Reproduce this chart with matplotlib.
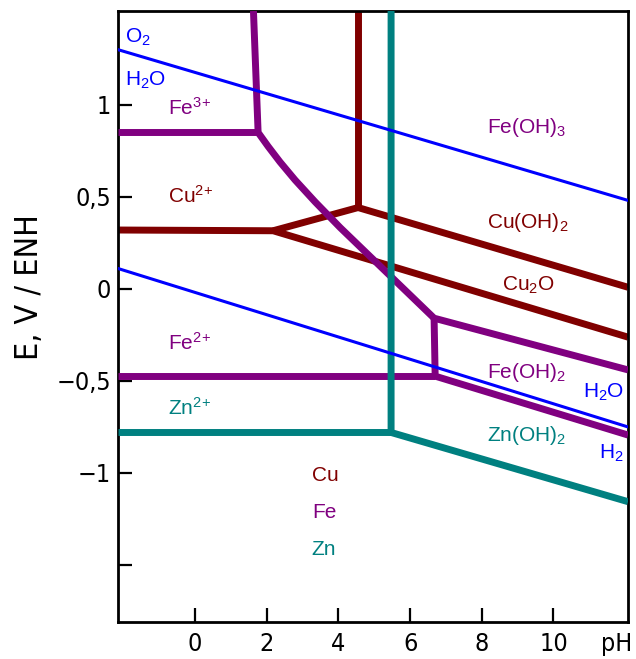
import matplotlib
matplotlib.use("Agg")
import matplotlib.pyplot as plt
import matplotlib.transforms as mtransforms

plt.rcParams['mathtext.fontset'] = 'custom'
plt.rcParams['mathtext.rm'] = 'Liberation Sans'
plt.rcParams['mathtext.it'] = 'Liberation Sans:italic'

# water stability lines (pH, E)
o2_ph = [-2.15, 12.08]
o2_e = [1.30, 0.481]
h2_ph = [-2.15, 12.08]
h2_e = [0.111, -0.75]

# iron boundaries
fe_upper_ph = [1.63, 1.76, 2.04, 2.37, 2.79, 3.35, 4.05, 6.67, 12.08]
fe_upper_e = [1.51, 0.850, 0.774, 0.690, 0.592, 0.473, 0.333, -0.159, -0.44]
fe3_ph = [-2.15, 1.76]
fe3_e = [0.852, 0.852]
fe_lower_ph = [6.67, 6.70, 12.08]
fe_lower_e = [-0.159, -0.474, -0.794]
fe2_ph = [-2.15, 6.70]
fe2_e = [-0.474, -0.474]

# copper boundaries
cu_a_ph = [-2.15, 2.18, 12.08]
cu_a_e = [0.32, 0.316, -0.262]
cu_b_ph = [2.18, 4.55, 12.08]
cu_b_e = [0.316, 0.442, 0.009]
cu_c_ph = [4.55, 4.55]
cu_c_e = [0.442, 1.51]

# zinc boundaries
zn_a_ph = [5.47, 5.47, 12.08]
zn_a_e = [1.51, -0.78, -1.156]
zn_b_ph = [-2.15, 5.47]
zn_b_e = [-0.78, -0.78]

xticks = [0, 2, 4, 6, 8, 10]
yticks = [1, 0.5, 0, -0.5, -1, -1.5]
ytick_labels = ["1", "0,5", "0", "\u22120,5", "\u22121", ""]

PURPLE = "#800080"
DARKRED = "#800000"
TEAL = "#008080"
BLUE = "#0000ff"

fig = plt.figure(figsize=(6.36, 6.59), dpi=100)
ax = fig.add_axes([0.1855, 0.0561, 0.8019, 0.9272])
ax.set_xlim(-2.15, 12.08)
ax.set_ylim(-1.81, 1.51)

lw = 5.0
kw = dict(solid_joinstyle="miter", solid_capstyle="butt")
for px, py in [(cu_a_ph, cu_a_e), (cu_b_ph, cu_b_e), (cu_c_ph, cu_c_e)]:
    ax.plot(px, py, color=DARKRED, lw=lw, zorder=2, **kw)
for px, py in [(fe_upper_ph, fe_upper_e), (fe3_ph, fe3_e), (fe_lower_ph, fe_lower_e), (fe2_ph, fe2_e)]:
    ax.plot(px, py, color=PURPLE, lw=lw, zorder=3, **kw)
for px, py in [(zn_a_ph, zn_a_e), (zn_b_ph, zn_b_e)]:
    ax.plot(px, py, color=TEAL, lw=lw, zorder=4, **kw)
ax.plot(o2_ph, o2_e, color=BLUE, lw=2.2, zorder=5)
ax.plot(h2_ph, h2_e, color=BLUE, lw=2.2, zorder=5)

# region labels
lab = dict(fontsize=15, family="Liberation Sans", va="center", ha="left")
ax.text(-1.95, 1.366, "O$_2$", color=BLUE, **lab)
ax.text(-1.95, 1.133, "H$_2$O", color=BLUE, **lab)
ax.text(-0.75, 0.985, "Fe$^{3\\!+}$", color=PURPLE, **lab)
ax.text(-0.75, 0.508, "Cu$^{2\\!+}$", color=DARKRED, **lab)
ax.text(8.15, 0.877, "Fe(OH)$_3$", color=PURPLE, **lab)
ax.text(8.15, 0.361, "Cu(OH)$_2$", color=DARKRED, **lab)
ax.text(8.57, 0.02, "Cu$_2$O", color=DARKRED, **lab)
ax.text(-0.75, -0.295, "Fe$^{2\\!+}$", color=PURPLE, **lab)
ax.text(-0.75, -0.647, "Zn$^{2\\!+}$", color=TEAL, **lab)
ax.text(8.15, -0.452, "Fe(OH)$_2$", color=PURPLE, **lab)
ax.text(10.83, -0.561, "H$_2$O", color=BLUE, **lab)
ax.text(8.15, -0.794, "Zn(OH)$_2$", color=TEAL, **lab)
ax.text(11.27, -0.892, "H$_2$", color=BLUE, **lab)
ax.text(3.26, -1.012, "Cu", color=DARKRED, **lab)
ax.text(3.26, -1.217, "Fe", color=PURPLE, **lab)
ax.text(3.26, -1.418, "Zn", color=TEAL, **lab)

# axes styling
for s in ax.spines.values():
    s.set_linewidth(2.0)
ax.set_xticks(xticks)
ax.set_xticklabels([str(v) for v in xticks])
ax.set_yticks(yticks)
ax.set_yticklabels(ytick_labels)
ax.tick_params(direction="in", length=10, width=1.6, labelsize=18)
ax.tick_params(axis="x", pad=7)
ax.tick_params(axis="y", pad=5)
for t in ax.get_xticklabels() + ax.get_yticklabels():
    t.set_fontstretch("condensed")

ax.set_ylabel("E, V / ENH", fontsize=23, fontstretch="condensed")
ax.yaxis.set_label_coords(-0.143, 0.549)

trans = mtransforms.blended_transform_factory(ax.transData, ax.transAxes)
ax.text(11.77, -0.036, "pH", transform=trans, fontsize=18, fontstretch="condensed",
        ha="center", va="center")

fig.savefig("out.png", dpi=100)
